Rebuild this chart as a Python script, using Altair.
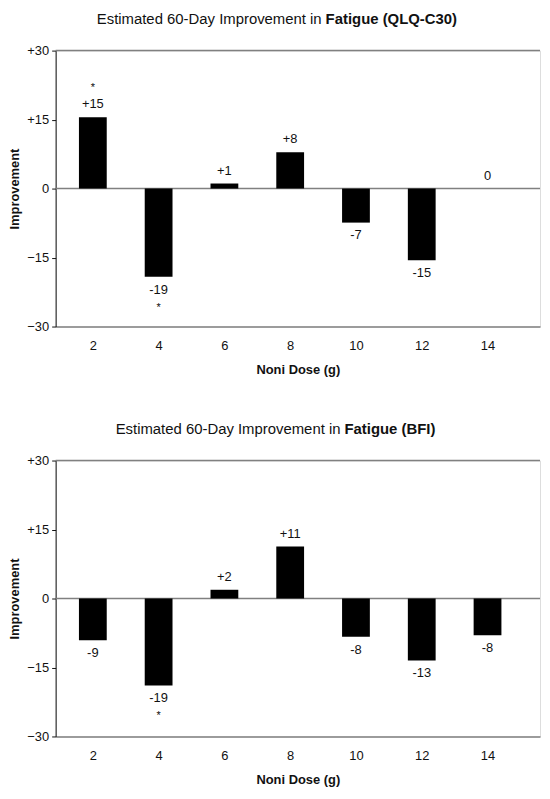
import altair as alt
import pandas as pd

doses = [2, 4, 6, 8, 10, 12, 14]

qlq_values = [15.5, -19.2, 1.1, 7.9, -7.4, -15.6, 0.0]
qlq_labels = ["+15", "-19", "+1", "+8", "-7", "-15", "0"]
qlq_sig = ["*", "*", "", "", "", "", ""]

bfi_values = [-9.1, -18.9, 1.9, 11.3, -8.3, -13.5, -8.0]
bfi_labels = ["-9", "-19", "+2", "+11", "-8", "-13", "-8"]
bfi_sig = ["", "*", "", "", "", "", ""]

title_normal = "Estimated 60-Day Improvement in"
qlq_bold = "Fatigue (QLQ-C30)"
bfi_bold = "Fatigue (BFI)"

y_ticks = [-30, -15, 0, 15, 30]
ref_lines = [0, 30]

FONT = "Liberation Sans"
W, H = 488, 278


def panel(values, labels, sig, bold_part, split_r, split_l):
    df = pd.DataFrame({"dose": doses, "v": values, "lab": labels, "sig": sig})
    base = alt.Chart(df)
    xenc = alt.X(
        "dose:Q",
        scale=alt.Scale(domain=[1.02, 15.445], nice=False, zero=False),
        axis=alt.Axis(
            values=doses, ticks=False, grid=False, domain=True,
            domainColor="#808080", domainWidth=1.5,
            labelFontSize=13, labelColor="#111", labelPadding=13,
            title="Noni Dose (g)", titleFontSize=13, titleFontWeight="bold",
            titleColor="#111", titlePadding=11, labelFlush=False,
        ),
    )
    yenc = alt.Y(
        "v:Q",
        scale=alt.Scale(domain=[-30, 30], nice=False),
        axis=alt.Axis(
            values=y_ticks, grid=False, domain=True, domainColor="#111",
            ticks=True, tickColor="#111", tickSize=4, labelPadding=3,
            labelFontSize=13, labelColor="#111",
            labelExpr="datum.value > 0 ? '+' + datum.label : datum.label",
            title="Improvement", titleFontSize=13, titleFontWeight="bold",
            titleColor="#111", titlePadding=5,
        ),
    )
    rules = alt.Chart(pd.DataFrame({"r": ref_lines})).mark_rule(
        color="#808080", strokeWidth=1.5
    ).encode(y=alt.Y("r:Q", scale=alt.Scale(domain=[-30, 30], nice=False)))
    bars = base.mark_bar(size=28, color="black").encode(x=xenc, y=yenc)
    pos = base.transform_filter("datum.v >= 0")
    neg = base.transform_filter("datum.v < 0")
    tstyle = dict(fontSize=13, font=FONT, color="#111")
    lab_pos = pos.mark_text(dy=-13, baseline="middle", **tstyle).encode(
        x="dose:Q", y="v:Q", text="lab:N")
    lab_neg = neg.mark_text(dy=13, baseline="middle", **tstyle).encode(
        x="dose:Q", y="v:Q", text="lab:N")
    sstyle = dict(fontSize=11, font=FONT, color="#111")
    sig_pos = pos.mark_text(dy=-29, baseline="middle", **sstyle).encode(
        x="dose:Q", y="v:Q", text="sig:N")
    sig_neg = neg.mark_text(dy=31, baseline="middle", **sstyle).encode(
        x="dose:Q", y="v:Q", text="sig:N")
    tdf = pd.DataFrame({"a": [title_normal], "b": [bold_part]})
    t1 = alt.Chart(tdf).mark_text(
        align="right", baseline="middle", fontSize=15, font=FONT, color="#111"
    ).encode(text="a:N", x=alt.value(split_r), y=alt.value(-32))
    t2 = alt.Chart(tdf).mark_text(
        align="left", baseline="middle", fontSize=15, font=FONT,
        fontWeight="bold", color="#111"
    ).encode(text="b:N", x=alt.value(split_l), y=alt.value(-32))
    return alt.layer(rules, bars, lab_pos, lab_neg, sig_pos, sig_neg, t1, t2).properties(
        width=W, height=H
    )


chart = alt.vconcat(
    panel(qlq_values, qlq_labels, qlq_sig, qlq_bold, 268, 272),
    panel(bfi_values, bfi_labels, bfi_sig, bfi_bold, 287, 291),
    spacing=44,
).properties(padding={"left": 0, "top": 0, "right": 0, "bottom": 0}).configure_view(
    stroke=None
).configure(font=FONT)

chart.save("out.html", embed_options={"renderer": "svg", "actions": False})
